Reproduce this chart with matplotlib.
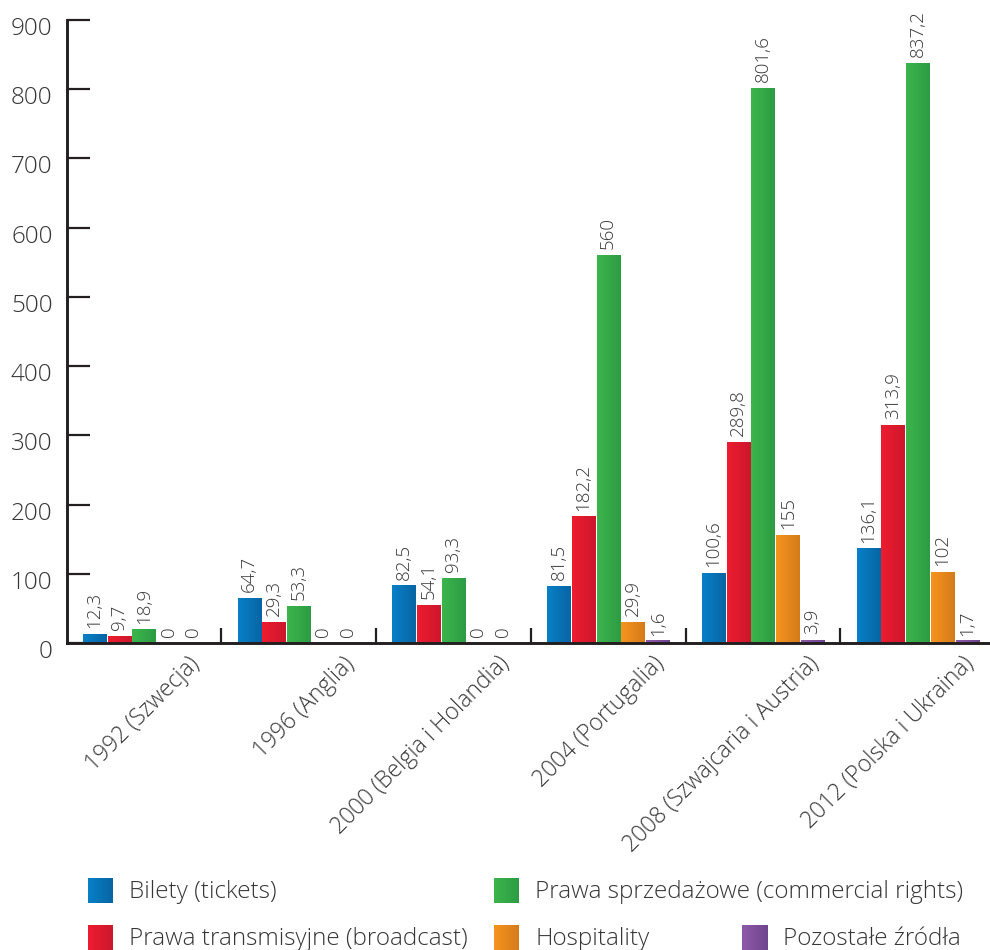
import numpy as np
import matplotlib
matplotlib.use('Agg')
import matplotlib.pyplot as plt
from matplotlib.colors import LinearSegmentedColormap
from matplotlib.transforms import ScaledTranslation

# ---------------- data ----------------
categories = ['1992 (Szwecja)', '1996 (Anglia)', '2000 (Belgia i Holandia)',
              '2004 (Portugalia)', '2008 (Szwajcaria i Austria)', '2012 (Polska i Ukraina)']
tickets = [12.3, 64.7, 82.5, 81.5, 100.6, 136.1]
broadcast = [9.7, 29.3, 54.1, 182.2, 289.8, 313.9]
commercial = [18.9, 53.3, 93.3, 560, 801.6, 837.2]
hospitality = [0, 0, 0, 29.9, 155, 102]
other = [0, 0, 0, 1.6, 3.9, 1.7]
series_names = ['Bilety (tickets)', 'Prawa transmisyjne (broadcast)',
                'Prawa sprzedażowe (commercial rights)', 'Hospitality', 'Pozostałe źródła']
y_ticks = [0, 100, 200, 300, 400, 500, 600, 700, 800, 900]

series = [tickets, broadcast, commercial, hospitality, other]
col_light = ['#0880c8', '#ee1c30', '#3cb54c', '#f7941e', '#8e5aa8']
col_dark = ['#0765a3', '#cc172c', '#2d9c44', '#d47b1a', '#6f4590']

TXT = '#363636'
AX = '#231f20'
plt.rcParams['font.family'] = ['Open Sans', 'DejaVu Sans']
plt.rcParams['font.weight'] = 'light'

W, H = 990, 950
fig = plt.figure(figsize=(W / 100, H / 100), dpi=100)


def fx(px):
    return px / W


def fy(py):
    return 1 - py / H


x0_px, x1_px, y0_px, y1_px = 66.6, 995, 643, 20
ax = fig.add_axes([fx(x0_px), fy(y0_px), fx(x1_px) - fx(x0_px), fy(y1_px) - fy(y0_px)])

n = len(categories)
x = np.arange(n)
step = 0.16
width = 0.15
grad = np.linspace(0, 1, 64).reshape(1, -1)


def fmt(v):
    v = float(v)
    if v.is_integer():
        return str(int(v))
    return f'{v:.1f}'.replace('.', ',')


for k, vals in enumerate(series):
    xs = x + (k - 2) * step
    bars = ax.bar(xs, vals, width=width, color=col_light[k], zorder=2, linewidth=0)
    cmap = LinearSegmentedColormap.from_list(f'g{k}', [col_light[k], col_dark[k]])
    for rect, v in zip(bars, vals):
        if v > 0:
            bx, bw, bh = rect.get_x(), rect.get_width(), rect.get_height()
            ax.imshow(grad, cmap=cmap, extent=[bx, bx + bw, 0, max(bh, 3.5)],
                      aspect='auto', zorder=3, interpolation='bilinear')
        ax.annotate(fmt(v), xy=(rect.get_x() + rect.get_width() / 2, v),
                    xytext=(0, 4.5), textcoords='offset points', rotation=90,
                    ha='center', va='bottom', fontsize=13.5, color=TXT, zorder=4)

ax.set_xlim(-0.5, n - 0.5)
ax.set_ylim(0, 900)

for s in ['top', 'right']:
    ax.spines[s].set_visible(False)
for s in ['left', 'bottom']:
    ax.spines[s].set_linewidth(2.1)
    ax.spines[s].set_color(AX)
    ax.spines[s].set_zorder(5)

ax.set_yticks(y_ticks)
ax.set_yticklabels([])
ax.tick_params(axis='y', direction='in', length=16.5, width=1.6, color=AX)
ax.set_xticks([])
ax.set_xticks(np.arange(n - 1) + 0.5, minor=True)
ax.tick_params(axis='x', which='minor', direction='in', length=11, width=1.6, color=AX)

# y tick labels
ytr = ax.get_yaxis_transform() + ScaledTranslation(-0.14, -0.09, fig.dpi_scale_trans)
for t in y_ticks:
    ax.text(0, t, str(t), transform=ytr, ha='right', va='center', fontsize=17.5, color=TXT)

# x category labels
xtr = ax.transData + ScaledTranslation(0.61, -0.09, fig.dpi_scale_trans)
for i, c in enumerate(categories):
    ax.text(i, 0, c, transform=xtr, rotation=45, ha='right', va='top',
            fontsize=16.5, color=TXT, rotation_mode='default')

# legend (manual layout)
legend_pos = [(88, 878), (88, 925), (494, 878), (494, 925), (742, 925)]
for k, (lx, ly) in enumerate(legend_pos):
    sq = fig.add_axes([fx(lx), fy(ly + 25), fx(25), 25 / H])
    cmap = LinearSegmentedColormap.from_list(f'l{k}', [col_light[k], col_dark[k]])
    sq.imshow(grad, cmap=cmap, aspect='auto', interpolation='bilinear')
    sq.set_axis_off()
    fig.text(fx(lx + 41), fy(ly + 14), series_names[k], ha='left', va='center',
             fontsize=17.5, color=TXT)

fig.savefig('out.png', dpi=100)
